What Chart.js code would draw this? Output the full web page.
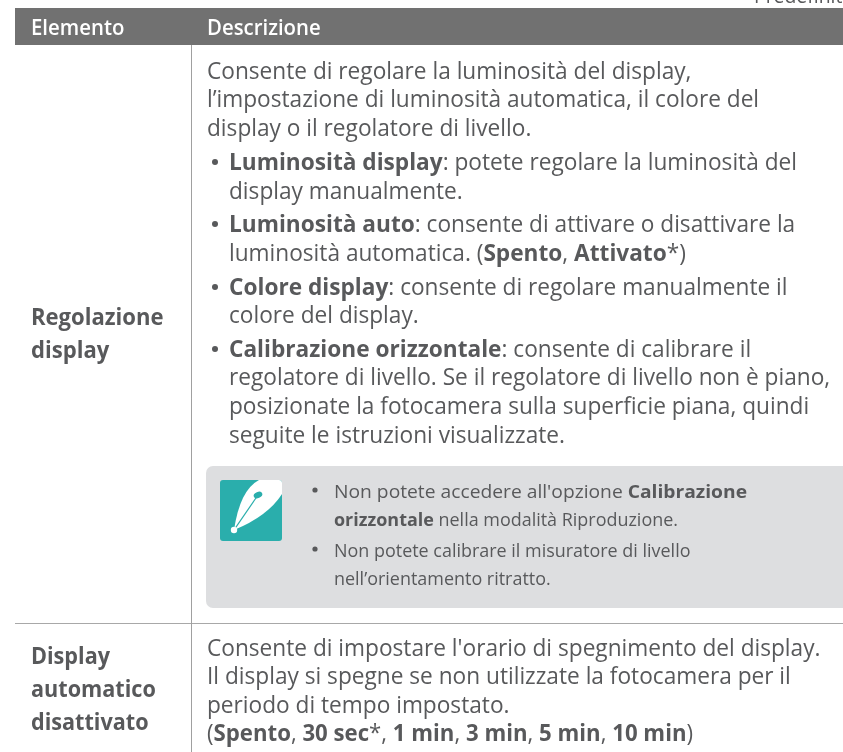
<!DOCTYPE html>
<html>
<head>
<meta charset="utf-8">
<script src="https://cdn.jsdelivr.net/npm/chart.js@4"></script>
<style>
html,body{margin:0;padding:0;background:#fff;overflow:hidden}
canvas{display:block}
</style>
</head>
<body>
<canvas id="tableChart" width="843" height="752"></canvas>
<script>
// table text, **..** marks the bold runs
const columnHeads = ["Elemento", "Descrizione"];
const rowHeadOne = ["Regolazione", "display"];
const rowHeadTwo = ["Display", "automatico", "disattivato"];

const rowOneLines = [
"Consente di regolare la luminosità del display,",
"l’impostazione di luminosità automatica, il colore del",
"display o il regolatore di livello.",
"**Luminosità display**: potete regolare la luminosità del",
"display manualmente.",
"**Luminosità auto**: consente di attivare o disattivare la",
"luminosità automatica. (**Spento**, **Attivato***)",
"**Colore display**: consente di regolare manualmente il",
"colore del display.",
"**Calibrazione orizzontale**: consente di calibrare il",
"regolatore di livello. Se il regolatore di livello non è piano,",
"posizionate la fotocamera sulla superficie piana, quindi",
"seguite le istruzioni visualizzate."
];
const rowOneBaselines = [79,107,136,170,199,232,261,295,323,357,385,414,443];
const rowOneIndent = [207,207,207,229,229,229,229,229,229,229,229,229,229];
const rowOneBullets = [3,5,7,9];

const noteLines = [
"Non potete accedere all'opzione **Calibrazione**",
"**orizzontale** nella modalità Riproduzione.",
"Non potete calibrare il misuratore di livello",
"nell’orientamento ritratto."
];
const noteBaselines = [498,526,557,585];
const noteBullets = [0,2];

const rowTwoLines = [
"Consente di impostare l'orario di spegnimento del display.",
"Il display si spegne se non utilizzate la fotocamera per il",
"periodo di tempo impostato.",
"(**Spento**, **30 sec***, **1 min**, **3 min**, **5 min**, **10 min**)"
];
const rowTwoBaselines = [656,684,713,741];

const FONT = '"Open Sans"';
const TEXT = "#58595b";

function writeLine(ctx, str, x, y, size, color, squeeze, boldWeight){
  const parts = str.split("**");
  let cx = 0;
  ctx.save();
  ctx.translate(x, y);
  ctx.scale(squeeze, 1);
  ctx.fillStyle = color;
  ctx.textBaseline = "alphabetic";
  parts.forEach((p, i) => {
    if(!p) return;
    ctx.font = (i % 2 === 1 ? boldWeight : 400) + " " + size + "px " + FONT;
    ctx.fillText(p, cx, 0);
    cx += ctx.measureText(p).width;
  });
  ctx.restore();
}

function dot(ctx, x, y, r, color){
  ctx.beginPath();
  ctx.arc(x, y, r, 0, Math.PI * 2);
  ctx.fillStyle = color;
  ctx.fill();
}

function nibIcon(ctx){
  ctx.beginPath();
  ctx.roundRect(220, 480, 62, 61, 3);
  ctx.fillStyle = "#2aaeac";
  ctx.fill();
  ctx.save();
  ctx.clip();
  ctx.beginPath();
  ctx.moveTo(259, 480);
  ctx.quadraticCurveTo(240, 490, 234, 530);
  ctx.quadraticCurveTo(268, 516, 282, 494);
  ctx.lineTo(282, 480);
  ctx.closePath();
  ctx.fillStyle = "#fff";
  ctx.fill();
  ctx.restore();
  ctx.beginPath();
  ctx.moveTo(258, 495);
  ctx.lineTo(234, 530);
  ctx.strokeStyle = "#2aaeac";
  ctx.lineWidth = 1.3;
  ctx.stroke();
  ctx.beginPath();
  ctx.ellipse(258, 495, 4.5, 3, -0.4, 0, Math.PI * 2);
  ctx.fillStyle = "#2aaeac";
  ctx.fill();
  dot(ctx, 234, 530, 3.2, "#fff");
}

const tablePlugin = {
  id: "tablePlugin",
  beforeDatasetsDraw(chart){
    const ctx = chart.ctx;
    ctx.save();
    ctx.beginPath();
    ctx.roundRect(206, 466, 660, 142, 7);
    ctx.fillStyle = "#dddee0";
    ctx.fill();
    ctx.restore();
  },
  afterDatasetsDraw(chart){
    const ctx = chart.ctx;
    ctx.save();
    writeLine(ctx, "Predefinito", 754, 3, 20, TEXT, 0.97, 600);
    writeLine(ctx, "**" + columnHeads[0] + "**", 31, 35, 21, "#fff", 0.97, 600);
    writeLine(ctx, "**" + columnHeads[1] + "**", 207, 35, 21, "#fff", 0.97, 600);

    rowHeadOne.forEach((s, i) => writeLine(ctx, "**" + s + "**", 31, [325,358][i], 23, TEXT, 0.96, 700));
    rowHeadTwo.forEach((s, i) => writeLine(ctx, "**" + s + "**", 31, [664,697,730][i], 23, TEXT, 0.94, 700));

    rowOneLines.forEach((s, i) => writeLine(ctx, s, rowOneIndent[i], rowOneBaselines[i], 23, TEXT, 0.985, 700));
    rowOneBullets.forEach(i => dot(ctx, 215, rowOneBaselines[i] - 8, 3, TEXT));

    // first note line runs wider than the others in the reference
    noteLines.forEach((s, i) => writeLine(ctx, s, 334, noteBaselines[i], 18.5, TEXT, i === 0 ? 1.04 : 0.97, 700));
    noteBullets.forEach(i => dot(ctx, 315, noteBaselines[i] - 8, 2.6, TEXT));
    nibIcon(ctx);

    rowTwoLines.forEach((s, i) => writeLine(ctx, s, 207, rowTwoBaselines[i], 23, TEXT, i === 3 ? 0.965 : 0.985, 700));
    ctx.restore();
  }
};

const lineStyle = (color, width) => ({
  showLine: true, pointRadius: 0, borderColor: color, borderWidth: width,
  borderCapStyle: "butt", tension: 0, clip: false
});

new Chart(document.getElementById("tableChart"), {
  type: "scatter",
  data: {
    datasets: [
      { data: [{x:15,y:26.5},{x:843,y:26.5}], ...lineStyle("#717171", 37) },
      { data: [{x:15,y:8.5},{x:843,y:8.5}], ...lineStyle("#8a8a8a", 1) },
      { data: [{x:191.5,y:8},{x:191.5,y:45}], ...lineStyle("#a6a6a6", 1) },
      { data: [{x:191.5,y:45},{x:191.5,y:752}], ...lineStyle("#a0a0a0", 1) },
      { data: [{x:15,y:623.5},{x:843,y:623.5}], ...lineStyle("#a8a8a8", 1) }
    ]
  },
  options: {
    responsive: false,
    animation: false,
    events: [],
    layout: { padding: 0 },
    plugins: { legend: { display: false }, tooltip: { enabled: false } },
    scales: {
      x: { type: "linear", display: false, min: 0, max: 843 },
      y: { type: "linear", display: false, min: 0, max: 752, reverse: true }
    }
  },
  plugins: [tablePlugin]
});
</script>
</body>
</html>
